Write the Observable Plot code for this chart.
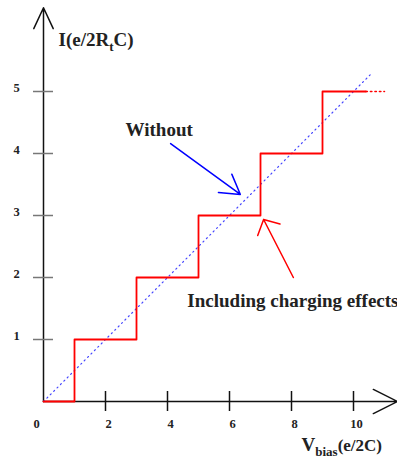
<!DOCTYPE html>
<html>
<head>
<meta charset="utf-8">
<script src="https://cdn.jsdelivr.net/npm/d3@7"></script>
<script src="https://cdn.jsdelivr.net/npm/@observablehq/plot@0.6"></script>
<style>
  html, body { margin: 0; padding: 0; background: #fff; }
  #chart { width: 397px; height: 459px; }
</style>
</head>
<body>
<div id="chart"></div>
<script>
// Single-electron tunnelling: current vs. bias voltage, with and without charging effects
const xTicks = [2, 4, 6, 8, 10];
const xTickLabels = [0, 2, 4, 6, 8, 10];
const yTicks = [1, 2, 3, 4, 5];

// Coulomb staircase (red): step edges in V, current level after each edge
const stairV = [0, 1, 3, 5, 7, 9, 10.4];
const stairI = [0, 1, 2, 3, 4, 5, 5];
// dotted continuation of the last plateau
const stairTailV = [10.4, 11.0];
const stairTailI = [5, 5];

// Ohmic line without charging effects (blue, dotted): I = V/2
const ohmicV = [0, 10.6];
const ohmicI = [0, 5.3];

// Annotations with their pointing arrows
const noteText = ["Without", "Including charging effects"];
const noteColor = ["#0000ff", "#ff0000"];
const noteFromV = [4.10, 8.06];
const noteFromI = [4.16, 2.00];
const noteToV = [6.35, 7.10];
const noteToI = [3.34, 2.935];

// Axis extents (arrow tips)
const xAxisEnd = 11.42;
const yAxisEnd = 6.35;

const serif = "'Liberation Serif', 'Times New Roman', Times, serif";
const ink = "#222";

const stair = stairV.map((v, i) => ({v, i: stairI[i]}));
const stairTail = stairTailV.map((v, i) => ({v, i: stairTailI[i]}));
const ohmic = ohmicV.map((v, i) => ({v, i: ohmicI[i]}));
const notes = noteText.map((t, k) => ({
  t, c: noteColor[k],
  x1: noteFromV[k], y1: noteFromI[k], x2: noteToV[k], y2: noteToI[k]
}));

const plot = Plot.plot({
  width: 397,
  height: 459,
  marginLeft: 43,
  marginRight: 44,
  marginTop: 91,
  marginBottom: 58,
  x: {domain: [0, 10], axis: null},
  y: {domain: [0, 5], axis: null},
  style: {background: "#fff", fontFamily: serif, overflow: "visible"},
  marks: [
    // axes with arrow heads
    Plot.arrow([0], {x1: 0, y1: 0, x2: xAxisEnd, y2: 0, stroke: "#111", strokeWidth: 1.5, headLength: 27, headAngle: 53}),
    Plot.arrow([0], {x1: 0, y1: 0, x2: 0, y2: yAxisEnd, stroke: "#111", strokeWidth: 1.5, headLength: 23, headAngle: 50}),
    // tick marks crossing the axes
    Plot.ruleX(xTicks, {x: d => d, y1: 0, y2: 0, insetTop: -10, insetBottom: -10, stroke: "#111", strokeWidth: 1.5}),
    Plot.ruleY(yTicks, {y: d => d, x1: 0, x2: 0, insetLeft: -10, insetRight: -10, stroke: "#777", strokeWidth: 1.5}),
    // tick labels
    Plot.text(xTickLabels.filter(d => d !== 0), {x: d => d, y: 0, text: d => String(d), dx: 3, dy: 22, fontSize: 12.5, fontWeight: "bold", fill: ink}),
    Plot.text([0], {x: d => d, y: 0, text: d => String(d), dx: -7, dy: 22, fontSize: 12.5, fontWeight: "bold", fill: ink}),
    Plot.text(yTicks, {x: 0, y: d => d, text: d => String(d), dx: -27, dy: -4, fontSize: 12.5, fontWeight: "bold", fill: ink}),
    // axis titles
    Plot.text(["I(e/2RtC)"], {x: 0, y: 5, dx: 15, dy: -46, text: d => d, textAnchor: "start", lineAnchor: "bottom", fontSize: 19, fontWeight: "bold", fill: ink}),
    Plot.text(["Vbias(e/2C)"], {x: 10, y: 0, dx: -52, dy: 49, text: d => d, textAnchor: "start", lineAnchor: "bottom", fontSize: 19, fontWeight: "bold", fill: ink}),
    // ohmic line
    Plot.line(ohmic, {x: "v", y: "i", stroke: "#4848ff", strokeWidth: 1.2, strokeDasharray: "1.2,3.6"}),
    // Coulomb staircase
    Plot.line(stair, {x: "v", y: "i", curve: "step-after", stroke: "#ff0000", strokeWidth: 1.8}),
    Plot.line(stairTail, {x: "v", y: "i", stroke: "#ff0000", strokeWidth: 1.5, strokeDasharray: "1.5,3"}),
    // annotation arrows
    Plot.arrow(notes.slice(0, 1), {x1: "x1", y1: "y1", x2: "x2", y2: "y2", stroke: "c", strokeWidth: 1.5, headLength: 22, headAngle: 62}),
    Plot.arrow(notes.slice(1), {x1: "x1", y1: "y1", x2: "x2", y2: "y2", stroke: "c", strokeWidth: 1.5, headLength: 17, headAngle: 95}),
    // annotation labels
    Plot.text(notes.slice(0, 1), {x: "x1", y: "y1", text: "t", dx: -45, dy: -8, textAnchor: "start", lineAnchor: "bottom", fontSize: 19, fontWeight: "bold", fill: ink}),
    Plot.text(notes.slice(1), {x: "x1", y: "y1", text: "t", dx: -106, dy: 29, textAnchor: "start", lineAnchor: "bottom", fontSize: 19, fontWeight: "bold", fill: ink})
  ]
});

// Subscripts in the axis titles
d3.select(plot).selectAll("text").each(function () {
  const s = this.textContent;
  if (s === "I(e/2RtC)") {
    this.innerHTML = 'I(e/2R<tspan dy="5" font-size="13">t</tspan><tspan dy="-5">C)</tspan>';
  } else if (s === "Vbias(e/2C)") {
    this.innerHTML = 'V<tspan dy="5" font-size="13">bias</tspan><tspan dy="-5" font-size="17">(e/2C)</tspan>';
  }
});

document.getElementById("chart").appendChild(plot);
</script>
</body>
</html>
